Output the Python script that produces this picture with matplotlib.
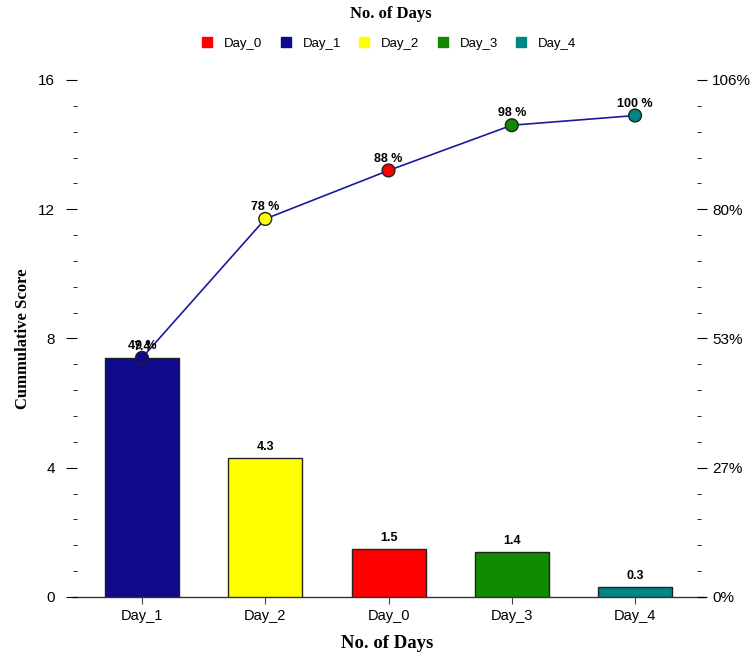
import matplotlib.pyplot as plt
import numpy as np

days = ['Day_1', 'Day_2', 'Day_0', 'Day_3', 'Day_4']
scores = [7.4, 4.3, 1.5, 1.4, 0.3]
cum_pct_labels = ['49 %', '78 %', '88 %', '98 %', '100 %']
colors = ['#0f0a8c', '#ffff00', '#ff0000', '#118a00', '#008585']
legend_days = ['Day_0', 'Day_1', 'Day_2', 'Day_3', 'Day_4']
legend_colors = ['#ff0000', '#0f0a8c', '#ffff00', '#118a00', '#008585']
right_labels = ['0%', '27%', '53%', '80%', '106%']

cum = np.cumsum(scores)

plt.rcParams['font.family'] = ['Liberation Sans', 'DejaVu Sans']
fig = plt.figure(figsize=(7.53, 6.53), dpi=100)
ax = fig.add_axes([0.1023, 0.0858, 0.8234, 0.7917])
x = np.arange(len(days))

ax.bar(x, scores, width=0.6, color=colors, edgecolor='#222222', linewidth=1, zorder=2)
for xi, v in zip(x, scores):
    ax.text(xi, v + 0.15, str(v), ha='center', va='bottom', fontsize=9, fontweight='bold', color='black')

ax.plot(x, cum, color='#1a1a9c', linewidth=1.2, zorder=3)
ax.scatter(x, cum, s=85, c=colors, edgecolors='#222222', linewidths=1, zorder=4)
for xi, c, lab in zip(x, cum, cum_pct_labels):
    ax.text(xi, c + 0.18, lab, ha='center', va='bottom', fontsize=9, fontweight='bold', color='black')

ax.set_xlim(-0.527, 4.503)
ax.set_ylim(0, 16)
ax.set_xticks(x)
ax.set_xticklabels(days, fontsize=10.5)
ax.set_yticks([0, 4, 8, 12, 16])
ax.set_yticks(np.arange(0, 16, 0.8), minor=True)
ax.tick_params(axis='y', which='major', length=8, labelsize=11, pad=8)
ax.tick_params(axis='y', which='minor', length=3)
ax.tick_params(axis='x', length=5, color='#444444', labelsize=10.5, pad=4)
for s in ['top', 'right', 'left', 'bottom']:
    ax.spines[s].set_visible(False)
ax.axhline(0, xmin=-0.007, xmax=1.013, color='#333333', linewidth=1, clip_on=False, zorder=1)

ax2 = ax.twinx()
ax2.set_ylim(0, 16)
ax2.set_yticks([0, 4, 8, 12, 16])
ax2.set_yticklabels(right_labels)
ax2.set_yticks(np.arange(0, 16, 0.8), minor=True)
ax2.tick_params(axis='y', which='major', length=7, labelsize=11, pad=4)
ax2.tick_params(axis='y', which='minor', length=3)
for s in ['top', 'right', 'left', 'bottom']:
    ax2.spines[s].set_visible(False)

ax.set_xlabel('No. of Days', family='Liberation Serif', fontweight='bold', fontsize=13.5, labelpad=8)
ax.set_ylabel('Cummulative Score', family='Liberation Serif', fontweight='bold', fontsize=12, labelpad=5)

fig.text(0.519, 0.978, 'No. of Days', family='Liberation Serif', fontweight='bold', fontsize=12, ha='center', va='center')
handles = [plt.Line2D([], [], marker='s', linestyle='', markersize=7, color=c) for c in legend_colors]
fig.legend(handles, legend_days, loc='center', bbox_to_anchor=(0.516, 0.933), ncol=5, frameon=False,
           fontsize=9.5, handletextpad=0.8, columnspacing=1.25, handlelength=1)

fig.savefig('out.png', dpi=100)
